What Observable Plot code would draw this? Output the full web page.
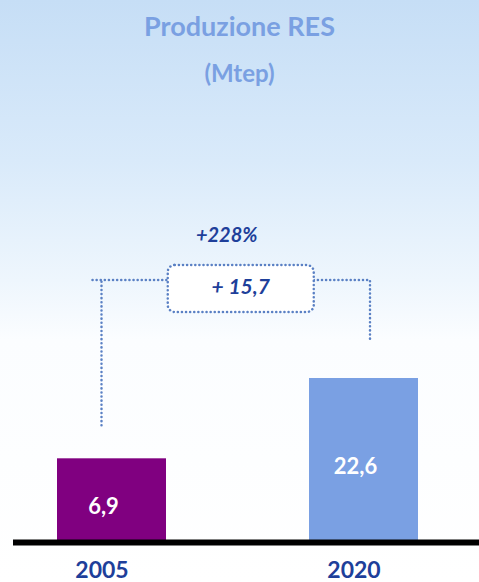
<!DOCTYPE html>
<html><head><meta charset="utf-8">
<script src="https://cdn.jsdelivr.net/npm/d3@7"></script>
<script src="https://cdn.jsdelivr.net/npm/@observablehq/plot@0.6"></script>
<style>
html,body{margin:0;padding:0;}
body{width:479px;height:582px;overflow:hidden;background:linear-gradient(to bottom,#c6def6 0px,#d9eafa 160px,#eef6fd 280px,#fbfdff 340px,#ffffff 582px);font-family:Lato,"Open Sans",sans-serif;}
#wrap{position:relative;width:479px;height:582px;}
.t{position:absolute;left:0;width:479px;text-align:center;color:#7aa0e2;font-weight:bold;line-height:1;}
#title{top:12px;font-size:27px;}
#sub{top:61px;font-size:24px;}
#chart{position:absolute;left:0;top:0;}
#chart svg{background:transparent;}
</style></head><body>
<div id="wrap"><div id="title" class="t">Produzione RES</div><div id="sub" class="t">(Mtep)</div><div id="chart"></div></div>
<script>
const years = ["2005", "2020"];
const values = [6.9, 22.6];
const valueLabels = ["6,9", "22,6"];
const barColors = ["#800080", "#7aa0e3"];

const data = years.map((y, i) => ({year: y, value: values[i], label: valueLabels[i]}));
const diff = values[1] - values[0];
const diffLabel = "+ " + diff.toFixed(1).replace(".", ",");
const pctLabel = "+" + Math.round(diff / values[0] * 100) + "%";

const dark = "#1e3f9a";
const dotColor = "#5a80c4";

function annotations(index, scales) {
  const x = scales.x, y = scales.y;
  const bw = typeof x.bandwidth === "function" ? x.bandwidth() : x.bandwidth;
  const cx = years.map(v => x(v) + bw / 2);
  const tops = values.map(v => y(v));
  const bottom = y(0);
  const level = Math.min(...tops) - 98;
  const g = d3.create("svg:g");
  data.forEach((d, i) => {
    g.append("text")
      .attr("x", cx[i] - 8)
      .attr("y", (tops[i] + bottom) / 2 + 8)
      .attr("text-anchor", "middle")
      .attr("dominant-baseline", "middle")
      .attr("fill", "white")
      .attr("font-family", "Lato, sans-serif")
      .attr("font-weight", "bold")
      .attr("font-size", 22)
      .text(d.label);
  });
  const lx = cx[0] - 10, rx = cx[1] + 6.5;
  const boxCx = (lx + rx) / 2 + 5, boxW = 146, boxH = 47;
  const boxL = boxCx - boxW / 2, boxR = boxCx + boxW / 2;
  const dotted = sel => sel.attr("stroke", dotColor).attr("stroke-width", 2.5)
    .attr("stroke-dasharray", "0.1 4").attr("stroke-linecap", "round").attr("fill", "none");
  g.append("path").attr("d", `M${lx},${tops[0] - 33}V${level}M${lx - 9},${level}H${boxL}`).call(dotted);
  g.append("path").attr("d", `M${boxR},${level}H${rx}V${tops[1] - 38}`).call(dotted);
  g.append("rect").attr("x", boxL).attr("y", level - 15).attr("width", boxW).attr("height", boxH)
    .attr("rx", 7).call(dotted).attr("fill", "white");
  g.append("text").attr("x", boxCx).attr("y", level + 14).attr("text-anchor", "middle")
    .attr("fill", dark).attr("font-family", "Lato, sans-serif").attr("font-weight", "bold")
    .attr("font-style", "italic").attr("font-size", 21).text(diffLabel);
  g.append("text").attr("x", boxCx - 14).attr("y", level - 38).attr("text-anchor", "middle")
    .attr("fill", dark).attr("font-family", "Lato, sans-serif").attr("font-weight", "bold")
    .attr("font-style", "italic").attr("font-size", 20).text(pctLabel);
  return g.node();
}

const chart = Plot.plot({
  width: 479,
  height: 582,
  marginLeft: 13,
  marginRight: 0,
  marginTop: 0,
  marginBottom: 40,
  style: {background: "transparent", overflow: "visible"},
  x: {domain: years, range: [57, 418], paddingInner: 0.5675, paddingOuter: 0, round: false, label: null},
  y: {type: "pow", exponent: 0.567, domain: [0, 22.6], range: [542, 378], axis: null},
  color: {domain: years, range: barColors},
  marks: [
    Plot.barY(data, {x: "year", y: "value", fill: "year"}),
    Plot.ruleY([0], {stroke: "black", strokeWidth: 6}),
    Plot.axisX({tickSize: 0, tickPadding: 19, fontSize: 23, fontWeight: "bold", color: dark, dx: -10, label: null, fontFamily: "Lato, sans-serif"}),
    annotations
  ]
});
document.getElementById("chart").appendChild(chart);
</script>
</body></html>
